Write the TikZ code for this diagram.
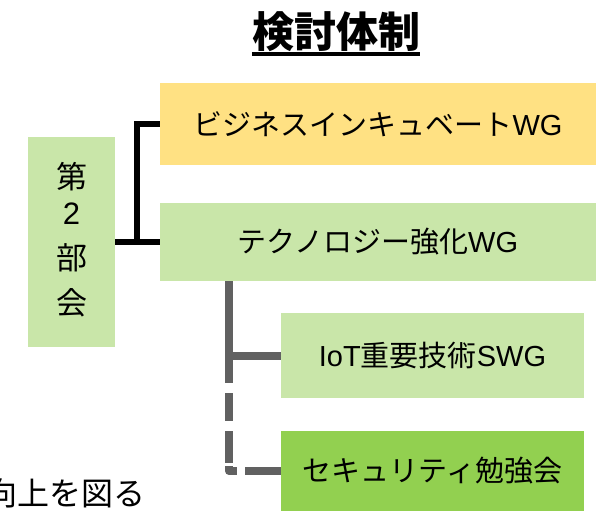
\documentclass[tikz,border=0pt]{standalone}
\usepackage{fontspec}
\setmainfont{Noto Sans CJK JP}
\newfontfamily\lat{Liberation Sans}
\definecolor{yellowbox}{HTML}{FFE183}
\definecolor{lightgreen}{HTML}{C9E6A9}
\definecolor{brightgreen}{HTML}{92D050}
\definecolor{linegray}{HTML}{616161}
\begin{document}
\begin{tikzpicture}[x=1pt,y=-1pt,
  box/.style={rectangle, inner sep=0pt, font=\fontsize{29}{34}\selectfont},
  blackline/.style={line width=6pt, black, line join=miter},
  grayline/.style={line width=8pt, color=linegray, line join=round},
]
\useasboundingbox (0,0) rectangle (604,511);
% title
\node[inner sep=0pt, anchor=base, font=\fontsize{42}{42}\selectfont\bfseries] (title) at (336,48) {検討体制};
\draw[line width=3pt] ([yshift=-6pt]title.base west) -- ([yshift=-6pt]title.base east);
% boxes
\node[box, fill=yellowbox, minimum width=436pt, minimum height=82pt] (biz) at (378,124) {ビジネスインキュベート{\lat WG}};
\node[box, fill=lightgreen, minimum width=436pt, minimum height=78pt] (tech) at (378,242) {テクノロジー強化{\lat WG}};
\node[box, fill=lightgreen, minimum width=87pt, minimum height=210pt] (bukai) at (71.5,242) {};
\node[inner sep=0pt, align=center, font=\fontsize{31}{45}\selectfont] (bukaitext) at (71.5,240) {第\\[-9pt]{\lat 2}\\部\\会};
\node[box, fill=lightgreen, minimum width=303pt, minimum height=85pt] (iot) at (432.5,355.5) {{\lat IoT}重要技術{\lat SWG}};
\node[box, fill=brightgreen, minimum width=303pt, minimum height=80pt] (sec) at (432.5,471) {セキュリティ勉強会};
% bottom-left text
\node[anchor=base east, inner sep=0pt, font=\fontsize{32}{32}\selectfont] (goal) at (146,505) {向上を図る};
% connectors
\draw[blackline] (bukai.east) -- (tech.west);
\draw[blackline] (biz.west) -- ++(-23,0) |- (tech.west);
\coordinate (gx) at (229,0);
\draw[grayline] (tech.south -| gx) |- (iot.west);
\draw[grayline, line cap=butt, dash pattern=on 102pt off 10pt on 28pt off 10pt on 32pt off 3pt on 13pt off 8pt on 100pt] (tech.south -| gx) |- (sec.west);
\end{tikzpicture}
\end{document}
